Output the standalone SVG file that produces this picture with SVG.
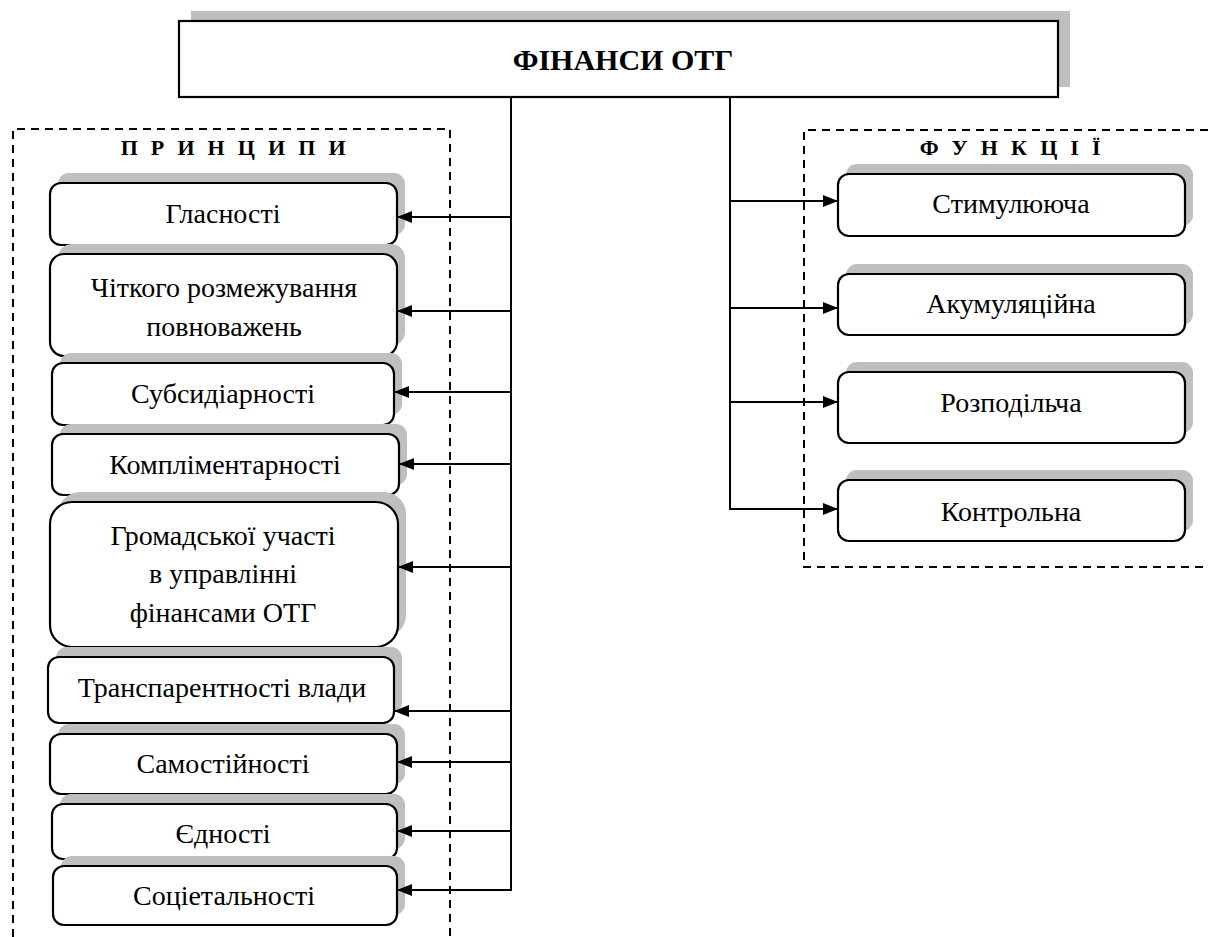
<svg xmlns="http://www.w3.org/2000/svg" width="1208" height="937" viewBox="0 0 1208 937">
  <defs>
    <style>
      .box { fill: #ffffff; stroke: #000000; stroke-width: 2.2; }
      .shadow { fill: #bfbfbf; stroke: none; }
      .frame { fill: none; stroke: #000000; stroke-width: 2; stroke-dasharray: 8 6; }
      .wire { fill: none; stroke: #000000; stroke-width: 2; }
    </style>
    <marker id="arrow" viewBox="0 0 15 12" refX="15" refY="6" markerWidth="15" markerHeight="12" markerUnits="userSpaceOnUse" orient="auto">
      <path d="M0,0 L15,6 L0,12 Z" fill="#000000"/>
    </marker>
  </defs>
  <rect width="1208" height="937" fill="#ffffff"/>

  <!-- dashed group frames with their headings -->
  <g id="frames" font-family="Liberation Serif, serif" font-size="22" font-weight="bold" text-anchor="middle" fill="#000000">
    <path class="frame" d="M13,937 L13,129 L450,129 L450,937"/>
    <path class="frame" d="M1208,130 L804,130 L804,567 L1208,567"/>
    <text x="235" y="155" letter-spacing="3.8">П Р И Н Ц И П И</text>
    <text x="1012" y="155" letter-spacing="3.8">Ф У Н К Ц І Ї</text>
  </g>

  <!-- root node -->
  <g id="root" font-family="Liberation Serif, serif" font-size="30" font-weight="bold" text-anchor="middle" fill="#000000">
    <rect class="shadow" x="191" y="11" width="879" height="76"/>
    <rect class="box" x="179" y="21" width="879" height="76"/>
    <text x="623" y="70">ФІНАНСИ ОТГ</text>
  </g>

  <!-- principles -->
  <g id="principles" font-family="Liberation Serif, serif" font-size="28" text-anchor="middle" fill="#000000">
    <g id="p-hlasnosti">
      <rect class="shadow" x="58" y="173" width="347" height="62" rx="11"/>
      <rect class="box" x="50" y="183" width="347" height="62" rx="11"/>
      <text x="223" y="223">Гласності</text>
    </g>
    <g id="p-rozmezhuvannia">
      <rect class="shadow" x="58" y="244" width="347" height="102" rx="14"/>
      <rect class="box" x="50" y="254" width="347" height="102" rx="14"/>
      <text x="224" y="297">Чіткого розмежування</text>
      <text x="224" y="336">повноважень</text>
    </g>
    <g id="p-subsydiarnosti">
      <rect class="shadow" x="60" y="353" width="342" height="62" rx="11"/>
      <rect class="box" x="52" y="363" width="342" height="62" rx="11"/>
      <text x="223" y="403">Субсидіарності</text>
    </g>
    <g id="p-komplimentarnosti">
      <rect class="shadow" x="60" y="424" width="347" height="61" rx="11"/>
      <rect class="box" x="52" y="434" width="347" height="61" rx="11"/>
      <text x="225" y="474">Компліментарності</text>
    </g>
    <g id="p-hromadskoi">
      <rect class="shadow" x="58" y="492" width="348" height="145" rx="22"/>
      <rect class="box" x="50" y="502" width="348" height="145" rx="22"/>
      <text x="223" y="545">Громадської участі</text>
      <text x="223" y="583">в управлінні</text>
      <text x="223" y="622">фінансами ОТГ</text>
    </g>
    <g id="p-transparentnosti">
      <rect class="shadow" x="56" y="647" width="346" height="66" rx="11"/>
      <rect class="box" x="48" y="657" width="346" height="66" rx="11"/>
      <text x="222" y="697">Транспарентності влади</text>
    </g>
    <g id="p-samostiinosti">
      <rect class="shadow" x="58" y="724" width="347" height="60" rx="11"/>
      <rect class="box" x="50" y="734" width="347" height="60" rx="11"/>
      <text x="223" y="773">Самостійності</text>
    </g>
    <g id="p-yednosti">
      <rect class="shadow" x="60" y="794" width="345" height="55" rx="11"/>
      <rect class="box" x="52" y="804" width="345" height="55" rx="11"/>
      <text x="223" y="843">Єдності</text>
    </g>
    <g id="p-sotsietalnosti">
      <rect class="shadow" x="61" y="856" width="344" height="59" rx="11"/>
      <rect class="box" x="53" y="866" width="344" height="59" rx="11"/>
      <text x="224" y="905">Соціетальності</text>
    </g>
  </g>

  <!-- functions -->
  <g id="functions" font-family="Liberation Serif, serif" font-size="28" text-anchor="middle" fill="#000000">
    <g id="f-stymuliuiucha">
      <rect class="shadow" x="846" y="164" width="347" height="62" rx="11"/>
      <rect class="box" x="838" y="174" width="347" height="62" rx="11"/>
      <text x="1011" y="213">Стимулююча</text>
    </g>
    <g id="f-akumuliatsiina">
      <rect class="shadow" x="846" y="264" width="347" height="61" rx="11"/>
      <rect class="box" x="838" y="274" width="347" height="61" rx="11"/>
      <text x="1011" y="313">Акумуляційна</text>
    </g>
    <g id="f-rozpodilcha">
      <rect class="shadow" x="846" y="362" width="347" height="71" rx="11"/>
      <rect class="box" x="838" y="372" width="347" height="71" rx="11"/>
      <text x="1011" y="412">Розподільча</text>
    </g>
    <g id="f-kontrolna">
      <rect class="shadow" x="846" y="470" width="347" height="61" rx="11"/>
      <rect class="box" x="838" y="480" width="347" height="61" rx="11"/>
      <text x="1011" y="521">Контрольна</text>
    </g>
  </g>

  <!-- connectors -->
  <g id="connectors">
    <path class="wire" d="M511,97 L511,891"/>
    <path class="wire" d="M730,97 L730,510"/>
    <path class="wire" marker-end="url(#arrow)" d="M511,217 L397,217"/>
    <path class="wire" marker-end="url(#arrow)" d="M511,311 L397,311"/>
    <path class="wire" marker-end="url(#arrow)" d="M511,392 L394,392"/>
    <path class="wire" marker-end="url(#arrow)" d="M511,464 L399,464"/>
    <path class="wire" marker-end="url(#arrow)" d="M511,567 L398,567"/>
    <path class="wire" marker-end="url(#arrow)" d="M511,711 L394,711"/>
    <path class="wire" marker-end="url(#arrow)" d="M511,762 L397,762"/>
    <path class="wire" marker-end="url(#arrow)" d="M511,831 L397,831"/>
    <path class="wire" marker-end="url(#arrow)" d="M511,890 L397,890"/>
    <path class="wire" marker-end="url(#arrow)" d="M730,201 L838,201"/>
    <path class="wire" marker-end="url(#arrow)" d="M730,308 L838,308"/>
    <path class="wire" marker-end="url(#arrow)" d="M730,402 L838,402"/>
    <path class="wire" marker-end="url(#arrow)" d="M730,509 L838,509"/>
  </g>
</svg>
